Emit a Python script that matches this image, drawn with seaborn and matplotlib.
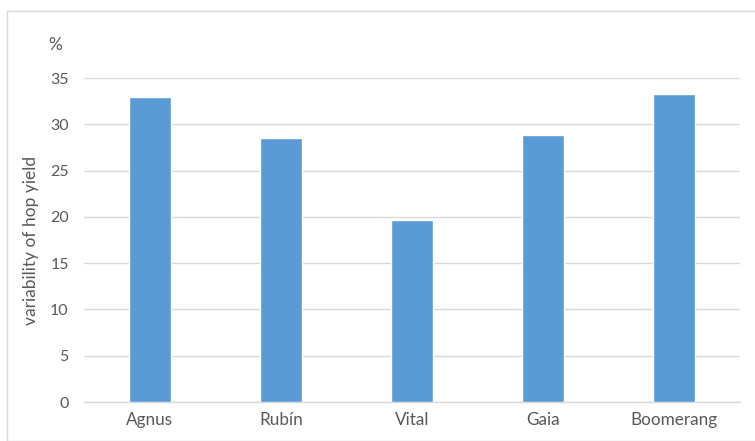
import matplotlib
matplotlib.use("Agg")
import matplotlib.pyplot as plt
import seaborn as sns
import pandas as pd
from matplotlib.patches import Rectangle

varieties = ["Agnus", "Rubín", "Vital", "Gaia", "Boomerang"]
variability = [33.0, 28.5, 19.7, 28.8, 33.3]
yticks = [0, 5, 10, 15, 20, 25, 30, 35]

sns.set_theme(style="white")
plt.rcParams['font.family'] = ['Lato', 'DejaVu Sans']

df = pd.DataFrame({"variety": varieties, "value": variability})

fig = plt.figure(figsize=(7.55, 4.41), dpi=100)
ax = fig.add_axes([84/755, 1 - 402/441, (740-84)/755, (402-78)/441])

sns.barplot(data=df, x="variety", y="value", color="#5B9BD5", width=0.32,
            saturation=1, ax=ax, zorder=3)

ax.set_ylim(0, 35)
ax.set_yticks(yticks)
ax.set_xlim(-0.5, 4.5)
ax.grid(axis="y", color="#D9D9D9", linewidth=1, zorder=0)
ax.grid(axis="x", visible=False)
for s in ["top", "right", "left"]:
    ax.spines[s].set_visible(False)
ax.spines["bottom"].set_color("#D9D9D9")
ax.spines["bottom"].set_linewidth(1)
ax.tick_params(axis="y", length=0, labelsize=11.5, labelcolor="#595959", pad=11)
ax.tick_params(axis="x", length=0, labelsize=12.3, labelcolor="#595959", pad=7)
ax.set_xlabel("")
ax.set_ylabel("variability of hop yield", fontsize=12.5, color="#595959", labelpad=8)

fig.text(55/755, 1 - 45/441, "%", fontsize=12.5, color="#595959", ha="center", va="center")

fig.patches.append(Rectangle((7/755, 0), 1, 1 - 11/441, transform=fig.transFigure,
                             fill=False, edgecolor="#D9D9D9", linewidth=1))

fig.savefig("out.png", dpi=100)
